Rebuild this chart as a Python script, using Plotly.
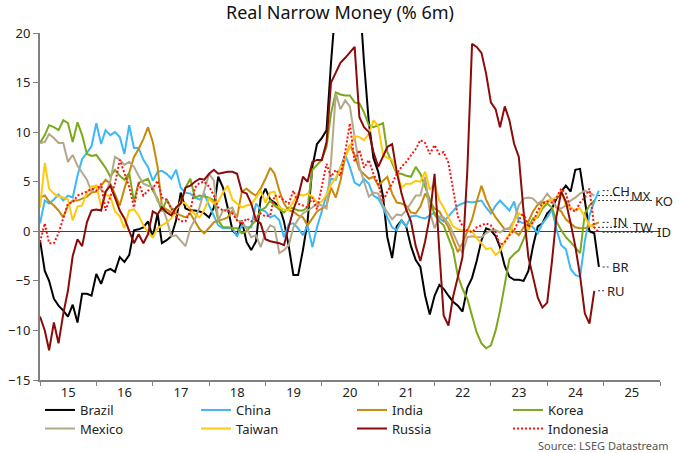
import plotly.graph_objects as go
import pandas as pd

# ---------------- data (monthly, Jan 2015 onwards, % 6m real narrow money) ----------------
start_month = "2015-01-01"

brazil = [
    -0.9, -4.0, -5.0, -6.8, -7.5, -8.0, -8.6, -7.4, -9.2, -6.3, -6.3, -6.5,
    -4.3, -5.3, -4.0, -3.8, -4.1, -2.6, -3.1, -2.4, 0.1, 0.2, 0.4, 1.0,
    -0.6, 1.8, -1.2, -0.9, -0.5, 1.1, 3.9, 2.3, 2.1, 2.1, 2.0, 1.8,
    1.4, 2.4, 5.5, 4.4, 2.4, 0.1, -0.4, 1.1, -1.1, -1.9, -1.0, 3.3,
    4.3, 3.2, 2.9, 2.5, 1.0, -1.5, -4.4, -4.4, -1.9, 1.0, 6.5, 8.8,
    9.4, 10.2, 17.0, 25.0, 29.0, 31.0, 30.0, 28.0, 24.0, 17.0, 11.0, 7.4,
    6.0, 3.5, -0.6, -2.7, 0.5, 1.1, 0.5, -1.5, -2.9, -3.6, -6.5, -8.4,
    -6.5, -5.4, -5.8, -6.5, -7.1, -7.5, -8.1, -5.7, -4.7, -3.0, -0.9, 0.3,
    0.1, -0.5, -1.6, -3.5, -4.6, -4.9, -4.9, -5.0, -4.0, -1.5, 0.5, 0.8,
    1.8, 2.3, 3.3, 4.0, 4.6, 4.0, 6.2, 6.3, 3.0, 0.0, -0.2, -3.6,
]
china = [
    0.8, 3.1, 2.8, 3.2, 3.7, 3.1, 3.6, 3.4, 5.6, 7.3, 7.9, 8.6,
    10.9, 8.8, 10.2, 9.7, 10.0, 9.5, 7.8, 10.7, 8.4, 8.4, 7.2, 6.5,
    5.1, 6.0, 6.1, 5.8, 5.3, 6.2, 4.4, 3.9, 3.8, 3.4, 3.2, 3.8,
    2.6, 1.5, 0.6, 0.3, 0.3, 0.3, -0.5, 0.6, 0.4, 0.4, 2.8, 2.2,
    2.0, 1.4, 1.6, 1.1, -0.6, 0.7, 0.8, 0.3, -0.4, 0.6, -1.6, 0.4,
    2.0, 3.6, 5.3, 5.2, 6.5, 7.7, 6.5, 4.9, 4.6, 5.3, 4.8, 3.6,
    3.3, 2.4, 1.4, 0.4, 0.1, 1.1, 0.5, 1.5, 1.6, 1.4, 1.3, 1.6,
    1.9, 1.3, 1.0, 1.5, 2.0, 2.6, 2.8, 3.0, 2.9, 3.0, 3.1, 2.4,
    1.8, 2.6, 3.1, 2.6, 2.1, 3.0, 1.0, 0.8, 0.8, 0.4, -0.2, 0.8,
    1.4, 2.2, 0.2, -1.4, -1.8, -3.8, -4.4, -4.6, -1.0, 1.6, 3.0, 4.1,
]
india = [
    3.4, 3.6, 3.0, 2.6, 2.1, 1.4, 2.6, 3.1, 3.1, 3.3, 3.5, 3.9,
    4.0, 4.6, 5.2, 4.8, 3.8, 2.6, 4.3, 6.0, 7.5, 8.3, 9.3, 10.5,
    9.0, 6.5, 2.5, 2.2, 1.9, 1.8, 1.6, 1.4, 1.8, 1.0, 0.2, -0.2,
    0.4, 0.9, 1.1, 1.2, 1.4, 2.1, 1.4, 4.0, 4.3, 3.9, 3.6, 4.3,
    5.3, 6.4, 5.8, 4.1, 2.8, 2.1, 2.0, 1.6, 1.4, 0.6, 1.3, 2.0,
    2.3, 2.6, 4.4, 3.4, 5.1, 7.5, 8.7, 7.7, 6.2, 5.8, 5.3, 5.5,
    4.6, 5.1, 5.5, 3.8, 2.9, 2.8, 2.6, 1.9, 1.8, 2.5, 3.8, 3.0,
    2.3, 2.0, 1.3, 0.4, -0.9, -2.1, -1.2, 0.0, 1.2, 3.0, 4.6, 3.2,
    2.2, 1.4, 0.8, 0.2, 0.3, 0.0, -0.4, 0.4, 1.0, 2.0, 2.7, 2.9,
    3.0, 3.2, 2.4, 2.0, 1.2, 0.8, 0.4, 0.3, 0.3, 0.5, 0.7, 0.9,
]
korea = [
    8.9, 9.7, 10.7, 10.5, 10.2, 11.2, 10.9, 9.0, 11.0, 9.7, 7.8, 7.6,
    7.7, 7.0, 6.4, 5.5, 6.2, 5.6, 5.2, 5.9, 3.0, 4.9, 5.1, 5.3,
    4.1, 3.3, 2.0, 3.2, 2.3, 2.2, 2.8, 4.4, 5.3, 3.4, 3.6, 3.5,
    3.4, 3.1, 1.1, 0.4, 0.4, 0.3, 0.3, -0.2, 0.0, 0.6, 1.1, 2.1,
    2.4, 3.1, 2.6, 2.2, 1.9, 2.4, 2.3, 2.1, 2.1, 2.4, 6.2, 6.7,
    7.2, 8.5, 11.9, 14.0, 13.8, 13.7, 13.7, 13.0, 12.9, 12.0, 10.7, 10.5,
    10.7, 10.9, 8.0, 6.9, 5.8, 5.8, 5.6, 5.5, 6.5, 5.8, 4.5, 3.2,
    1.7, 1.0, 0.6, -0.6, -1.9, -4.5, -5.8, -6.8, -8.4, -10.2, -11.3, -11.8,
    -11.5, -10.0, -8.0, -5.5, -2.8, -2.3, -1.9, -0.8, 0.4, 1.3, 1.4, 2.3,
    2.8, 2.4, 1.0, 0.1, -0.6, -1.1, -1.6, -2.2, 1.8, 2.6, 3.1,
]
mexico = [
    8.9, 9.0, 9.8, 9.4, 8.9, 8.9, 7.0, 7.7, 6.6, 5.9, 5.2, 4.0,
    4.6, 4.2, 3.8, 5.1, 7.5, 7.2, 6.7, 7.0, 6.5, 5.6, 4.8, 4.6,
    4.5, 3.0, 2.6, 1.2, -0.5, -0.4, -0.9, -1.5, 0.3, 1.2, 2.5, 4.0,
    5.8, 5.1, 1.1, 2.1, 2.2, 2.4, 1.1, 1.0, 0.3, -0.6, -0.4, -1.6,
    -0.2, 0.6, 0.4, -2.2, -1.9, -1.4, 0.4, 1.2, 1.8, 2.1, 2.4, 2.8,
    2.6, 2.3, 7.0, 13.9, 12.3, 13.2, 12.6, 9.5, 6.5, 5.0, 3.5, 3.9,
    3.8, 2.6, 1.9, 1.2, 1.7, 1.6, 2.1, 2.8, 3.6, 3.6, 5.5, 2.0,
    0.3, 1.5, 1.4, 0.8, -0.2, -1.2, -2.2, -0.6, -0.5, -0.6, -0.6, -0.2,
    0.1, 0.1, -0.1, 0.2, 0.3, 1.1, 2.6, 3.3, 3.4, 3.3, 2.8, 3.1,
    3.8, 3.2, 2.4, 2.3, 2.6, 3.1, 3.4, 3.8, 4.1, 3.9, 3.6,
]
taiwan = [
    2.4, 6.9, 4.3, 3.8, 3.5, 3.4, 3.2, 1.1, 2.5, 2.6, 3.9, 4.5,
    4.6, 2.5, 3.7, 3.5, 2.0, 1.5, 0.3, 2.1, 2.2, 1.6, 0.6, -0.1,
    -0.6, 0.3, 0.6, 0.9, 1.3, 2.1, 3.0, 2.8, 2.2, 1.7, 1.4, 2.2,
    3.3, 2.8, 3.0, 3.9, 4.6, 3.2, 2.8, 2.4, 2.6, 2.7, 3.4, 4.1,
    2.9, 3.9, 4.0, 2.4, 2.2, 2.1, 3.0, 3.8, 3.6, 3.8, 3.5, 2.9,
    3.0, 3.7, 4.7, 5.4, 6.4, 7.5, 8.5, 9.6, 9.5, 9.2, 9.8, 11.2,
    10.6, 7.7, 7.4, 7.2, 6.0, 4.4, 4.8, 4.8, 5.1, 5.0, 6.0, 4.2,
    4.8, 3.1, 2.4, 1.4, 0.5, 0.2, 0.1, 0.1, 0.0, -0.7, -1.2, -1.8,
    -1.7, -2.4, -2.0, -1.0, -0.3, 1.0, 1.8, 1.5, 0.1, 1.0, 1.6, 2.6,
    3.1, 3.2, 3.4, 4.1, 2.6, 2.4, 2.1, 2.3, 1.4, 0.6, 0.4,
]
russia = [
    -8.6, -10.0, -12.0, -9.2, -11.3, -8.3, -6.0, -2.5, -0.8, -1.5, 0.9, 2.1,
    2.2, 2.1, 4.0, 4.6, 3.4, 2.1, 1.3, 0.0, -1.2, -0.3, -1.2, -0.3,
    2.0, 1.7, 2.4, 1.9, 1.6, 2.4, 2.8, 4.4, 4.6, 5.0, 5.3, 5.2,
    5.8, 6.2, 5.8, 5.9, 6.0, 6.0, 5.8, 4.0, 3.8, 2.8, 1.1, 0.8,
    -0.8, -1.0, -1.1, -1.2, -1.4, 0.3, 2.2, 3.5, 5.5, 5.0, 7.0, 7.2,
    7.2, 9.0, 15.0, 16.0, 17.0, 17.5, 18.0, 18.6, 11.5, 10.5, 10.0, 8.0,
    6.5, 7.5, 8.5, 8.8, 6.0, 3.8, 2.2, 1.0, -1.5, -3.0, -1.0, 1.5,
    5.8, -2.0, -8.5, -9.5, -6.6, -4.6, -2.6, 6.0, 18.9, 18.6, 18.0, 15.9,
    13.0, 12.3, 10.5, 12.6, 11.2, 8.8, 7.5, 2.0, -2.6, -4.6, -6.7, -7.7,
    -7.2, -3.0, 1.5, 4.0, 3.0, 0.8, -1.5, -4.5, -8.3, -9.3, -6.0,
]
indonesia = [
    -1.1, 0.8, -1.2, -1.2, -0.2, 1.4, 2.8, 2.9, 3.6, 3.8, 4.0, 4.3,
    4.1, 4.8, 2.1, 3.5, 4.8, 7.2, 5.8, 4.5, 2.4, 4.9, 3.6, 4.1,
    4.3, 5.1, 3.4, 3.2, 2.3, 1.5, 1.0, 1.0, 2.0, 4.4, 4.9, 5.0,
    4.5, 3.6, 2.4, 2.1, 2.1, 1.8, 1.1, 0.7, 1.3, 1.0, 1.3, 1.8,
    1.5, 1.6, 3.6, 3.5, 3.1, 2.8, 4.1, 2.8, 2.6, 2.4, 3.4, 2.2,
    4.5, 6.8, 5.5, 6.2, 5.6, 8.0, 10.9, 7.0, 8.2, 6.4, 7.2, 5.8,
    4.8, 3.0, 4.0, 4.8, 5.8, 6.5, 7.0, 7.6, 8.3, 9.2, 8.9, 7.8,
    8.7, 7.8, 8.0, 6.9, 4.4, 1.5, 0.5, 0.1, -0.1, 0.4, 0.6, 0.8,
    0.6, -0.1, -1.4, -1.1, -0.4, 0.1, 1.1, 1.9, 0.4, 0.9, 2.1, 2.8,
    3.0, 2.9, 3.4, 4.3, 3.8, 2.2, 2.0, 2.9, 3.4, 4.3, 0.4, -0.1,
]

series_names = ["Brazil", "China", "India", "Korea", "Mexico", "Taiwan", "Russia", "Indonesia"]
series_values = [brazil, china, india, korea, mexico, taiwan, russia, indonesia]
series_colors = ["#000000", "#3DB8F5", "#C98A0B", "#7BA91C", "#B3A98A", "#FFC90E", "#8B0A0A", "#FF1010"]
series_dash = ["solid", "solid", "solid", "solid", "solid", "solid", "solid", "2px,2px"]
series_legend = ["legend", "legend", "legend", "legend", "legend2", "legend2", "legend2", "legend2"]
end_labels = ["BR", "CH", "IN", "KO", "MX", "TW", "RU", "ID"]
# horizontal placement of end labels (paper fraction of plot width)
end_label_x = [0.9227, 0.9227, 0.9243, 0.9919, 0.9533, 0.9565, 0.9146, 0.9952]

x_range = ["2015-01-01", "2026-01-01"]
title_text = "Real Narrow Money (% 6m)"
source_text = "Source: LSEG Datastream"

FONT = "Noto Sans, Open Sans, DejaVu Sans, sans-serif"
N_MONTHS_AXIS = 132  # Jan 2015 .. Jan 2026
W, H = 680, 453
ML, MR, MT, MB = 40, 20, 33, 73

fig = go.Figure()
for name, vals, col, dash, lg in zip(series_names, series_values, series_colors,
                                     series_dash, series_legend):
    x = pd.date_range(start_month, periods=len(vals), freq="MS")
    fig.add_trace(go.Scatter(
        x=x, y=vals, mode="lines", name=name, legend=lg,
        line=dict(color=col, width=2, dash=dash),
    ))

# end labels with dotted leaders
for lab, vals, lx in zip(end_labels, series_values, end_label_x):
    last = vals[-1]
    x0 = (len(vals) - 1 + 0.8) / N_MONTHS_AXIS
    x1 = lx - 0.004
    fig.add_shape(type="line", xref="paper", yref="y", x0=x0, x1=x1, y0=last, y1=last,
                  line=dict(color="#333333", width=1, dash="2px,2px"))
    fig.add_annotation(text=lab, xref="paper", yref="y", x=lx, y=last, xanchor="left",
                       yanchor="middle", showarrow=False, xshift=-2,
                       font=dict(family=FONT, size=13, color="#222222"))

fig.add_annotation(text=source_text, xref="paper", yref="paper", x=1.016, y=-0.1875,
                   xanchor="right", yanchor="middle", showarrow=False,
                   font=dict(family=FONT, size=11, color="#555555"))

legend_common = dict(orientation="h", xref="container", x=40 / W, xanchor="left",
                     yref="container", yanchor="top",
                     entrywidth=111, entrywidthmode="pixels",
                     font=dict(family=FONT, size=13, color="#222222"),
                     bgcolor="rgba(0,0,0,0)", tracegroupgap=0, itemwidth=30)

fig.update_layout(
    width=W, height=H,
    margin=dict(l=ML, r=MR, t=MT, b=MB, autoexpand=False),
    paper_bgcolor="white", plot_bgcolor="white",
    font=dict(family=FONT, size=13, color="#222222"),
    title=dict(text=title_text, x=0.5, xref="container", xanchor="center",
               y=1 - 13 / H, yref="container", yanchor="middle",
               font=dict(family=FONT, size=18, color="#111111")),
    showlegend=True,
    legend=dict(legend_common, y=1 - 395 / H),
    legend2=dict(legend_common, y=1 - 413.5 / H),
    xaxis=dict(type="date", range=x_range, dtick="M12", tick0="2015-01-01",
               tickformat="%y", ticklabelmode="period", ticks="outside", ticklen=4,
               tickcolor="#808080", showline=True, linecolor="#808080", linewidth=1.5,
               showgrid=False, zeroline=False, automargin=False, ticklabelstandoff=-4,
               tickfont=dict(size=13, color="#222222")),
    yaxis=dict(range=[-15, 20], dtick=5, ticks="outside", ticklen=5, tickcolor="#808080",
               showline=True, linecolor="#808080", linewidth=2, showgrid=False,
               zeroline=True, zerolinecolor="#404040", zerolinewidth=1, automargin=False,
               tickfont=dict(size=13, color="#222222")),
)

fig.write_html("out.html", config={"displayModeBar": False},
               post_script="document.body.style.margin='0';document.body.style.overflow='hidden';")
